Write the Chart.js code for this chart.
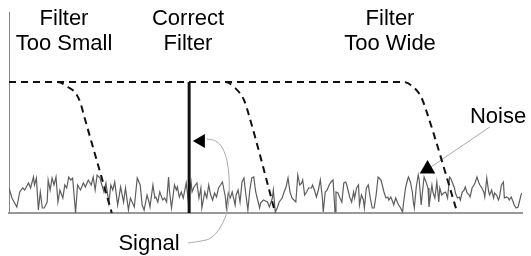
<!DOCTYPE html>
<html lang="en">
<head>
    <meta charset="UTF-8">
    <title>Filter bandwidth vs. noise</title>
    <script src="https://cdn.jsdelivr.net/npm/chart.js"></script>
    <style>
        body { margin: 0; background: #fff; }
        #chart { display: block; }
    </style>
</head>
<body>
    <canvas id="chart" width="531" height="256"></canvas>

    <script>
        // noise floor (frequency, amplitude)
        const noiseFreq = [0,3,8,11,14,16,20,22,25,26,28,30,32,34,36,39,40,42,44,46,48,50,52,55,57,59,61,63,65,68,70,73,76,78,
            81,84,86,88,90,93,94,97,99,102,104,106,108,111,114,117,119,122,124,128,131,134,136,138,141,143,144,147,149,150,152,154,157,159,161,163,164,166,
            169,171,172,174,176,178,181,183,186,187,189,192,194,196,197,200,202,204,206,208,210,212,214,216,218,221,222,224,226,228,231,232,234,236,238,240,242,244,246,248,250,252,254,256,
            257,260,262,264,266,269,270,272,274,276,279,281,283,285,287,289,291,293,295,297,299,300,302,304,306,309,310,312,314,316,318,320,321,323,325,327,329,331,333,334,336,338,340,342,344,
            345,348,350,352,353,355,357,358,360,362,363,365,367,369,371,373,375,377,378,380,382,383,385,387,388,390,392,393,395,397,398,400,402,403,405,407,408,410,412,413,414,416,418,419,421,422,424,426,428,429,431,432,
            433,435,437,439,440,442,444,446,448,450,451,453,455,456,458,460,461,463,465,466,468,470,471,473,475,476,478,480,481,483,485,486,488,490,491,493,495,496,498,500,501,503,505,506,508,510,511,513,515,516,518,520,521,523,524];
        const noiseAmp = [25,15,6,21,25,23,30,25,36,28,35,3,21,5,5,11,33,23,35,28,36,11,23,15,28,25,36,33,35,0,28,23,30,26,
            33,28,36,23,38,35,31,21,30,10,28,23,31,8,26,11,25,3,15,6,35,28,8,3,18,11,6,28,15,16,11,21,13,15,11,36,21,5,
            28,23,26,16,21,15,30,13,31,21,26,30,15,25,5,21,15,28,18,13,20,16,25,28,31,16,5,20,15,21,8,18,23,11,31,35,18,3,23,35,36,21,13,5,
            10,13,12,11,6,15,23,1,5,11,15,21,26,35,21,15,13,11,38,28,30,33,18,21,25,25,28,23,16,23,33,16,1,21,23,28,31,33,1,21,20,15,11,30,31,
            28,16,11,21,15,25,28,8,18,13,5,25,28,15,5,5,18,36,35,33,25,21,15,16,13,16,11,8,15,10,8,5,1,10,25,33,36,31,21,11,5,26,38,33,8,18,36,31,25,6,21,28,
            21,15,31,11,25,18,20,21,15,36,35,30,25,20,15,16,13,21,23,26,20,18,16,25,28,30,36,30,28,25,21,16,35,21,18,23,15,20,18,13,16,28,31,15,16,15,13,16,11,8,5,6,10,18,20];

        // filter responses: passband level 131, then roll-off
        const smallFreq = [0, 50, 60, 68, 73, 77, 105];
        const smallAmp = [131, 131, 126, 120, 110, 96, 0];
        const correctFreq = [0, 221, 231, 240, 245, 272];
        const correctAmp = [131, 131, 125, 113, 98, 0];
        const wideFreq = [0, 403, 413, 421, 426, 458];
        const wideAmp = [131, 131, 126, 116, 103, 0];

        // the signal spike
        const signalFreq = [184, 184];
        const signalAmp = [0, 131];

        // pointer curves for the labels
        const signalArrowFreq = [183, 196, 206, 216, 223, 225, 223, 218, 211, 202];
        const signalArrowAmp = [-30, -28, -25, -14, 3, 26, 50, 65, 72, 74];
        const signalHead = { x: 196, y: 72 };
        const noiseArrowFreq = [491, 431];
        const noiseArrowAmp = [86, 46];
        const noiseHead = { x: 427.5, y: 44 };

        const pts = (xs, ys) => xs.map((x, i) => ({ x: x, y: ys[i] }));

        const dashed = {
            borderColor: '#111',
            borderWidth: 2,
            borderDash: [7, 5],
            pointRadius: 0,
            fill: false,
            cubicInterpolationMode: 'monotone'
        };

        const labelPlugin = {
            id: 'labels',
            afterDraw(chart) {
                const ctx = chart.ctx;
                ctx.save();
                ctx.fillStyle = '#000';
                ctx.font = '22px Arial, "Liberation Sans", sans-serif';
                ctx.textAlign = 'center';
                ctx.textBaseline = 'alphabetic';
                ctx.fillText('Filter', 64, 25);
                ctx.fillText('Too Small', 64, 50);
                ctx.fillText('Correct', 188, 25);
                ctx.fillText('Filter', 188, 50);
                ctx.fillText('Filter', 390, 25);
                ctx.fillText('Too Wide', 390, 50);
                ctx.fillText('Noise', 498, 123);
                ctx.fillText('Signal', 149, 250);
                ctx.restore();
            }
        };

        new Chart(document.getElementById('chart'), {
            type: 'line',
            data: {
                datasets: [
                    {
                        type: 'scatter',
                        data: [signalHead],
                        pointStyle: 'triangle',
                        rotation: 270,
                        pointRadius: 8,
                        pointBorderWidth: 0,
                        backgroundColor: '#000',
                        clip: false
                    },
                    {
                        type: 'scatter',
                        data: [noiseHead],
                        pointStyle: 'triangle',
                        pointRadius: 9,
                        pointBorderWidth: 0,
                        backgroundColor: '#000',
                        clip: false
                    },
                    {
                        data: pts(signalFreq, signalAmp),
                        borderColor: '#111',
                        borderWidth: 3,
                        pointRadius: 0
                    },
                    Object.assign({ data: pts(smallFreq, smallAmp) }, dashed),
                    Object.assign({ data: pts(correctFreq, correctAmp) }, dashed),
                    Object.assign({ data: pts(wideFreq, wideAmp) }, dashed),
                    {
                        data: pts(signalArrowFreq, signalArrowAmp),
                        borderColor: '#aaa',
                        borderWidth: 1,
                        pointRadius: 0,
                        tension: 0.4,
                        clip: false
                    },
                    {
                        data: pts(noiseArrowFreq, noiseArrowAmp),
                        borderColor: '#aaa',
                        borderWidth: 1,
                        pointRadius: 0
                    },
                    {
                        data: pts(noiseFreq, noiseAmp),
                        borderColor: '#5e5e5e',
                        borderWidth: 1.2,
                        pointRadius: 0
                    }
                ]
            },
            options: {
                responsive: false,
                animation: false,
                layout: { padding: { left: 7, top: 12, right: 0, bottom: 43 } },
                plugins: { legend: { display: false }, tooltip: { enabled: false } },
                scales: {
                    x: {
                        type: 'linear',
                        min: 0,
                        max: 524,
                        ticks: { display: false },
                        grid: { display: false, drawTicks: false },
                        border: { display: true, color: '#999', width: 2 }
                    },
                    y: {
                        min: 0,
                        max: 201,
                        ticks: { display: false },
                        grid: { display: false, drawTicks: false },
                        border: { display: true, color: '#888', width: 1 }
                    }
                }
            },
            plugins: [labelPlugin]
        });
    </script>
</body>
</html>
